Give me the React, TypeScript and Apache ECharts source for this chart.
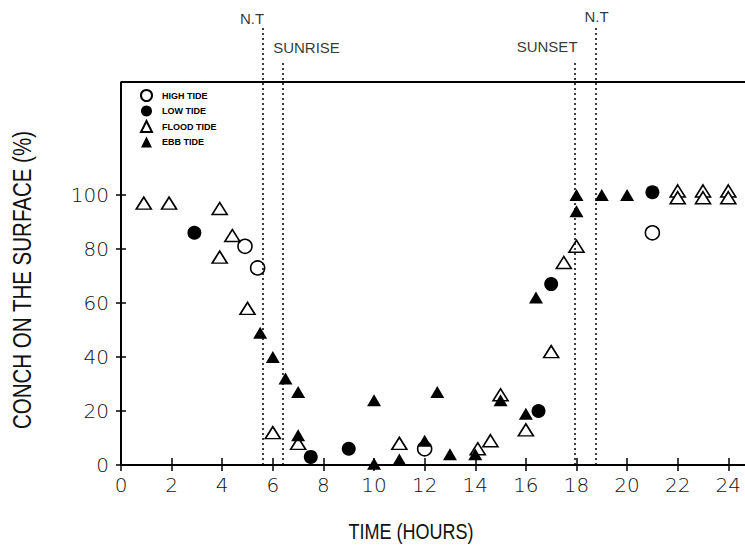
import React, { useEffect, useRef } from "react";
import * as echarts from "echarts";

// Data (x = hour of day, y = % conch on the surface)
const highTide: number[][] = [
  [4.9, 81], [5.4, 73], [12, 6], [21, 86],
];
const lowTide: number[][] = [
  [2.9, 86], [7.5, 3], [9, 6], [16.5, 20], [17, 67], [21, 101],
];
const floodTide: number[][] = [
  [0.9, 97], [1.9, 97], [3.9, 95], [4.4, 85], [3.9, 77], [5, 58], [6, 12],
  [7, 8], [11, 8], [14.1, 6], [14.6, 9], [15, 26], [16, 13], [17, 42],
  [17.5, 75], [18, 81], [22, 101.5], [22, 99], [23, 101.5], [23, 99],
  [24, 101.5], [24, 99],
];
const ebbTide: number[][] = [
  [5.5, 49], [6, 40], [6.5, 32], [7, 27], [7, 11], [10, 24], [10, 0.5],
  [11, 2], [12, 9], [12.5, 27], [13, 4], [14, 4], [15, 24], [16, 19],
  [16.4, 62], [18, 94], [18, 100], [19, 100], [20, 100],
];

const xTicks = [0, 2, 4, 6, 8, 10, 12, 14, 16, 18, 20, 22, 24];
const yTicks = [0, 20, 40, 60, 80, 100];

// Event times (vertical dotted lines) and their labels
const eventNames = ["N.T", "SUNRISE", "SUNSET", "N.T"];
const eventTimes = [5.6, 6.4, 17.95, 18.75];
const eventLineTops = [162, 150, 150, 163];
const eventLabelX = [5.18, 7.33, 16.84, 18.79];
const eventLabelY = [165.5, 154.6, 155, 166];

const X_MAX = 24.66;
const Y_MAX = 170;
const FRAME_TOP = 142;

export default function App() {
  const ref = useRef<HTMLDivElement>(null);

  useEffect(() => {
    if (!ref.current) return;
    const chart = echarts.init(ref.current, undefined, { renderer: "svg" });

    const dotted = { type: [2, 3] as any, width: 1.5, color: "#000" };
    const solid = { type: "solid" as any, width: 2, color: "#000" };

    const markLines: any[] = eventTimes.map((t, i) => [
      { coord: [t, 0], lineStyle: dotted },
      { coord: [t, eventLineTops[i]], lineStyle: dotted },
    ]);
    markLines.push([
      { coord: [0, 0], lineStyle: solid },
      { coord: [0, FRAME_TOP], lineStyle: solid },
    ]);
    markLines.push([
      { coord: [0, FRAME_TOP], lineStyle: solid },
      { coord: [X_MAX, FRAME_TOP], lineStyle: solid },
    ]);

    const tickFont = {
      fontFamily: "DejaVu Sans",
      fontWeight: 200 as any,
      fontSize: 20,
      color: "#111",
    };

    chart.setOption({
      animation: false,
      backgroundColor: "#fff",
      grid: { left: 121, right: 0, top: 6, bottom: 84, containLabel: false },
      legend: {
        data: ["HIGH TIDE", "LOW TIDE", "FLOOD TIDE", "EBB TIDE"],
        orient: "vertical",
        left: 140,
        top: 89,
        itemWidth: 11,
        itemHeight: 11,
        itemGap: 3.5,
        padding: 0,
        selectedMode: false,
        textStyle: {
          fontFamily: "Liberation Sans",
          fontWeight: "bold",
          fontSize: 9,
          color: "#000",
          padding: [0, 0, 0, 5],
        },
      },
      xAxis: [
        {
          type: "value",
          min: 0,
          max: X_MAX,
          interval: 2,
          position: "bottom",
          axisLine: { show: true, onZero: false, lineStyle: { color: "#000", width: 2 } },
          axisTick: {
            show: true,
            length: 6,
            customValues: xTicks,
            lineStyle: { color: "#000", width: 1.5 },
          },
          axisLabel: { show: true, margin: 10, customValues: xTicks, ...tickFont },
          splitLine: { show: false },
        },
        {
          type: "value",
          min: 0,
          max: X_MAX,
          interval: 2,
          position: "bottom",
          axisLine: { show: false, onZero: false },
          axisTick: {
            show: true,
            inside: true,
            length: 7,
            customValues: xTicks,
            lineStyle: { color: "#000", width: 1.5 },
          },
          axisLabel: { show: false },
          splitLine: { show: false },
        },
      ],
      yAxis: [
        {
          type: "value",
          min: 0,
          max: Y_MAX,
          interval: 20,
          position: "left",
          axisLine: { show: false, onZero: false },
          axisTick: {
            show: true,
            length: 5,
            customValues: yTicks,
            lineStyle: { color: "#000", width: 1.5 },
          },
          axisLabel: { show: true, margin: 12, customValues: yTicks, ...tickFont },
          splitLine: { show: false },
        },
        {
          type: "value",
          min: 0,
          max: Y_MAX,
          interval: 20,
          position: "left",
          axisLine: { show: false, onZero: false },
          axisTick: {
            show: true,
            inside: true,
            length: 5,
            customValues: yTicks,
            lineStyle: { color: "#000", width: 1.5 },
          },
          axisLabel: { show: false },
          splitLine: { show: false },
        },
      ],
      graphic: [
        {
          type: "text",
          x: 22,
          y: 280,
          rotation: Math.PI / 2,
          scaleX: 0.82,
          style: {
            text: "CONCH ON THE SURFACE (%)",
            textAlign: "center",
            textVerticalAlign: "middle",
            fontFamily: "Liberation Sans",
            fontSize: 25,
            fill: "#111",
          },
        },
        {
          type: "text",
          x: 411,
          y: 531,
          scaleX: 0.82,
          style: {
            text: "TIME (HOURS)",
            textAlign: "center",
            textVerticalAlign: "middle",
            fontFamily: "Liberation Sans",
            fontSize: 22,
            fill: "#111",
          },
        },
      ],
      series: [
        {
          name: "annotations",
          type: "scatter",
          silent: true,
          symbolSize: 1,
          itemStyle: { color: "rgba(0,0,0,0)" },
          data: eventNames.map((n, i) => ({ name: n, value: [eventLabelX[i], eventLabelY[i]] })),
          label: {
            show: true,
            position: "inside",
            formatter: "{b}",
            fontFamily: "Liberation Sans",
            fontSize: 15,
            color: "#000",
          },
          markLine: {
            silent: true,
            symbol: ["none", "none"],
            label: { show: false },
            emphasis: { disabled: true },
            data: markLines,
          },
          z: 1,
        },
        {
          name: "HIGH TIDE",
          type: "scatter",
          symbol: "circle",
          symbolSize: 14,
          itemStyle: { color: "#fff", borderColor: "#000", borderWidth: 1.6, opacity: 1 },
          data: highTide,
          z: 3,
        },
        {
          name: "LOW TIDE",
          type: "scatter",
          symbol: "circle",
          symbolSize: 14,
          itemStyle: { color: "#000", borderColor: "#000", borderWidth: 0, opacity: 1 },
          data: lowTide,
          z: 3,
        },
        {
          name: "FLOOD TIDE",
          type: "scatter",
          symbol: "triangle",
          symbolSize: [15, 12],
          itemStyle: { color: "#fff", borderColor: "#000", borderWidth: 1.6, opacity: 1 },
          data: floodTide,
          z: 3,
        },
        {
          name: "EBB TIDE",
          type: "scatter",
          symbol: "triangle",
          symbolSize: [14, 12],
          itemStyle: { color: "#000", borderColor: "#000", borderWidth: 0, opacity: 1 },
          data: ebbTide,
          z: 4,
        },
      ],
    });

    return () => chart.dispose();
  }, []);

  return (
    <div
      ref={ref}
      style={{ position: "fixed", left: 0, top: 0, width: 745, height: 549, background: "#fff" }}
    />
  );
}
